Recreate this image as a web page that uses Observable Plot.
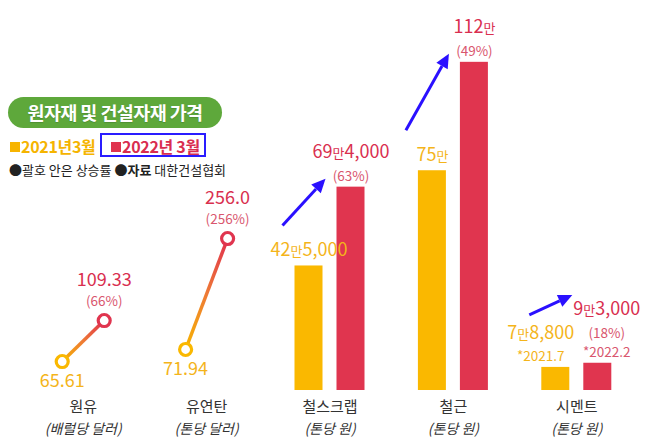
<!DOCTYPE html>
<html><head><meta charset="utf-8">
<script src="https://cdn.jsdelivr.net/npm/d3@7"></script>
<script src="https://cdn.jsdelivr.net/npm/@observablehq/plot@0.6"></script>
<style>
html,body{margin:0;padding:0;background:#fff;}
#wrap{position:relative;width:650px;height:444px;overflow:hidden;font-family:"Noto Sans CJK KR","Noto Sans",sans-serif;}
#wrap > svg{position:absolute;left:0;top:0;}
.pill{position:absolute;left:8px;top:97px;width:214px;height:31px;border-radius:16px;background:#5ea83b;color:#fff;font-weight:700;font-size:18.5px;line-height:31px;text-align:center;letter-spacing:-0.6px;text-shadow:0 1px 1px rgba(0,0,0,0.15);}
.legend{position:absolute;left:10px;top:135px;font-size:16px;font-weight:700;white-space:nowrap;line-height:22px;letter-spacing:-0.3px;}
.legend .sq{display:inline-block;width:10px;height:10px;margin-right:1px;vertical-align:1px;}
.legend .boxed{position:absolute;left:90px;top:-2px;width:102px;height:20px;border:2px solid #2a1cff;}
.legend .red{position:absolute;left:101px;top:0;}
.note{position:absolute;left:9px;top:160px;font-size:13px;color:#222;white-space:nowrap;line-height:20px;}
</style></head><body>
<svg width="0" height="0" style="position:absolute">
  <defs>
    <linearGradient id="lineGrad" x1="0" y1="1" x2="1" y2="0">
      <stop offset="0%" stop-color="#f7b400"/>
      <stop offset="50%" stop-color="#ee7a35"/>
      <stop offset="100%" stop-color="#e0304f"/>
    </linearGradient>
  </defs>
</svg>
<div id="wrap">
  <div class="pill">원자재 및 건설자재 가격</div>
  <div class="legend"><span style="color:#f5b400"><span class="sq" style="background:#f7b400"></span>2021년3월</span><span class="red" style="color:#d92d4f"><span class="sq" style="background:#e0344f"></span>2022년 3월</span><span class="boxed"></span></div>
  <div class="note">●괄호 안은 상승률 ●<b>자료</b> 대한건설협회</div>
</div>
<script>
// ---- data ----
const categories = ["원유", "유연탄", "철스크랩", "철근", "시멘트"];
const units = ["(배럴당 달러)", "(톤당 달러)", "(톤당 원)", "(톤당 원)", "(톤당 원)"];
const years = ["2021", "2022"];

// line panels (dollars)
const lineCats = ["원유", "유연탄"];
const line2021 = [65.61, 71.94];
const line2022 = [109.33, 256.0];
const line2021Labels = ["65.61", "71.94"];
const line2022Labels = ["109.33", "256.0"];
const linePct = ["(66%)", "(256%)"];

// bar panels (unit: 만 원)
const barCats = ["철스크랩", "철근", "시멘트"];
const bar2021 = [42.5, 75, 7.88];
const bar2022 = [69.4, 112, 9.3];
const bar2021Labels = ["42만5,000", "75만", "7만8,800"];
const bar2022Labels = ["69만4,000", "112만", "9만3,000"];
const barPct = ["(63%)", "(49%)", "(18%)"];
const bar2021Dates = ["", "", "*2021.7"];
const bar2022Dates = ["", "", "*2022.2"];

// ---- styling ----
const FONT = '"Noto Sans CJK KR", "Noto Sans", sans-serif';
const YEL = "#fab800", RED = "#e0354f";
const YEL_T = "#f4b41a", RED_T = "#d92f4f", PINK = "#d9566e";
const BLUE = "#2a10ff";
const W = 650, H = 444, mL = 21, mR = 12, mT = 0, mB = 54;
const facetW = (W - mL - mR) / categories.length;
const step = 42, barW = 28;
const pInner = 1 - barW / step;
const pOuter = (facetW / step - 2 + pInner) / 2;
// labels of dated (crowded) pairs are pushed outward
const crowdShift = {"2021": -15, "2022": 9};

const fxScale = {domain: categories, padding: 0, round: false, axis: null};
const xScale = {type: "band", domain: years, paddingInner: pInner, paddingOuter: pOuter, round: false, axis: null};
const colorScale = {domain: years, range: [YEL, RED]};
const base = {width: W, height: H, marginLeft: mL, marginRight: mR, marginTop: mT, marginBottom: mB,
  style: {background: "transparent", fontFamily: FONT, overflow: "visible"}};

// ---- tables ----
const barRows = barCats.flatMap((c, i) => [
  {cat: c, year: "2021", value: bar2021[i], label: bar2021Labels[i], dated: !!bar2021Dates[i],
   sub: [bar2021Dates[i]].filter(Boolean)},
  {cat: c, year: "2022", value: bar2022[i], label: bar2022Labels[i], dated: !!bar2022Dates[i],
   sub: [barPct[i], bar2022Dates[i]].filter(Boolean)}
]);
const barPairs = barCats.map((c, i) => ({cat: c, v21: bar2021[i], v22: bar2022[i], k21: bar2021Dates[i] ? 1 : 0}));

function labelMarks(year, valColor, subColor) {
  const rows = barRows.filter(d => d.year === year);
  const marks = [];
  for (const dated of [false, true]) {
    const part = rows.filter(d => d.dated === dated);
    const dx = dated ? crowdShift[year] : 0;
    marks.push(Plot.text(part.filter(d => d.sub.length), {fx: "cat", x: "year", y: "value",
      text: d => d.sub.join("\n"), lineAnchor: "bottom", dx, dy: -6, fill: subColor, fontSize: 13.5, lineHeight: 1.4}));
    marks.push(Plot.text(part, {fx: "cat", x: "year", y: "value",
      text: d => [d.label, ...d.sub.map(() => "\u00a0")].join("\n"),
      lineAnchor: "bottom", dx, dy: -10, fill: valColor, fontSize: 18, lineHeight: 1.05}));
  }
  return marks;
}

function arrowRender(index, scales, values) {
  const half = scales.x && scales.x.bandwidth ? scales.x.bandwidth() / 2 : barW / 2;
  const g = d3.create("svg:g");
  for (const i of index) {
    const sx = values.x1[i] + half - 26, sy = values.y1[i] - 40 - 12 * barPairs[i].k21;
    const ex = values.x2[i] + half - 25, ey = Math.min(values.y2[i] - 8, sy - 20);
    const a = Math.atan2(ey - sy, ex - sx), L = 14, hw = 6.5;
    const bx = ex - L * Math.cos(a), by = ey - L * Math.sin(a);
    g.append("line").attr("x1", sx).attr("y1", sy).attr("x2", bx).attr("y2", by)
      .attr("stroke", BLUE).attr("stroke-width", 3);
    g.append("path").attr("fill", BLUE).attr("d",
      `M${ex},${ey}L${bx + hw * Math.sin(a)},${by - hw * Math.cos(a)}L${bx - hw * Math.sin(a)},${by + hw * Math.cos(a)}Z`);
  }
  return g.node();
}

const main = Plot.plot({
  ...base,
  fx: fxScale, x: xScale, y: {domain: [0, 133.1], axis: null}, color: colorScale,
  marks: [
    Plot.barY(barRows, {fx: "cat", x: "year", y: "value", fill: "year"}),
    ...labelMarks("2021", YEL_T, YEL_T),
    ...labelMarks("2022", RED_T, PINK),
    Plot.link(barPairs, {fx: "cat", x1: () => "2021", x2: () => "2022", y1: "v21", y2: "v22",
      stroke: BLUE, strokeWidth: 3, render: arrowRender}),
    Plot.text(categories, {fx: d => d, frameAnchor: "bottom", text: d => d, dy: 21, fill: "#333", fontSize: 15}),
    Plot.text(categories, {fx: d => d, frameAnchor: "bottom", text: (d, i) => units[i], dy: 43,
      fill: "#333", fontSize: 14, fontStyle: "italic"})
  ]
});

// line panels: each has its own value scale
const lineDomains = [[34.7, 450.6], [3.94, 650.7]];
function linePanel(i) {
  const pair = [{cat: lineCats[i], v21: line2021[i], v22: line2022[i]}];
  const pts = [
    {cat: lineCats[i], year: "2021", value: line2021[i], label: line2021Labels[i]},
    {cat: lineCats[i], year: "2022", value: line2022[i], label: line2022Labels[i], pct: linePct[i]}
  ];
  return Plot.plot({
    ...base,
    fx: fxScale, x: xScale, y: {domain: lineDomains[i], axis: null}, color: colorScale,
    marks: [
      Plot.link(pair, {fx: "cat", x1: () => "2021", x2: () => "2022", y1: "v21", y2: "v22",
        stroke: "url(#lineGrad)", strokeWidth: 3.5}),
      Plot.dot(pts, {fx: "cat", x: "year", y: "value", r: 6, fill: "white", stroke: "year", strokeWidth: 3.2}),
      Plot.text(pts.filter(d => d.year === "2021"), {fx: "cat", x: "year", y: "value", text: "label",
        lineAnchor: "top", dy: 13, fill: YEL_T, fontSize: 18}),
      Plot.text(pts.filter(d => d.year === "2022"), {fx: "cat", x: "year", y: "value", text: "pct",
        lineAnchor: "bottom", dy: -15, fill: PINK, fontSize: 13.5}),
      Plot.text(pts.filter(d => d.year === "2022"), {fx: "cat", x: "year", y: "value", text: "label",
        lineAnchor: "bottom", dy: -35, fill: RED_T, fontSize: 18})
    ]
  });
}

function shrinkMan(svg) {
  const walker = document.createTreeWalker(svg, NodeFilter.SHOW_TEXT);
  const nodes = [];
  while (walker.nextNode()) nodes.push(walker.currentNode);
  for (const n of nodes) {
    if (!n.nodeValue.includes("만")) continue;
    const parts = n.nodeValue.split("만");
    const frag = document.createDocumentFragment();
    parts.forEach((p, k) => {
      if (k > 0) {
        const t = document.createElementNS("http://www.w3.org/2000/svg", "tspan");
        t.setAttribute("font-size", "0.72em");
        t.textContent = "만";
        frag.appendChild(t);
      }
      if (p) frag.appendChild(document.createTextNode(p));
    });
    n.parentNode.replaceChild(frag, n);
  }
}

const wrap = document.getElementById("wrap");
for (const el of [main, linePanel(0), linePanel(1)]) {
  shrinkMan(el);
  wrap.insertBefore(el, wrap.firstChild);
}
</script>
</body></html>
